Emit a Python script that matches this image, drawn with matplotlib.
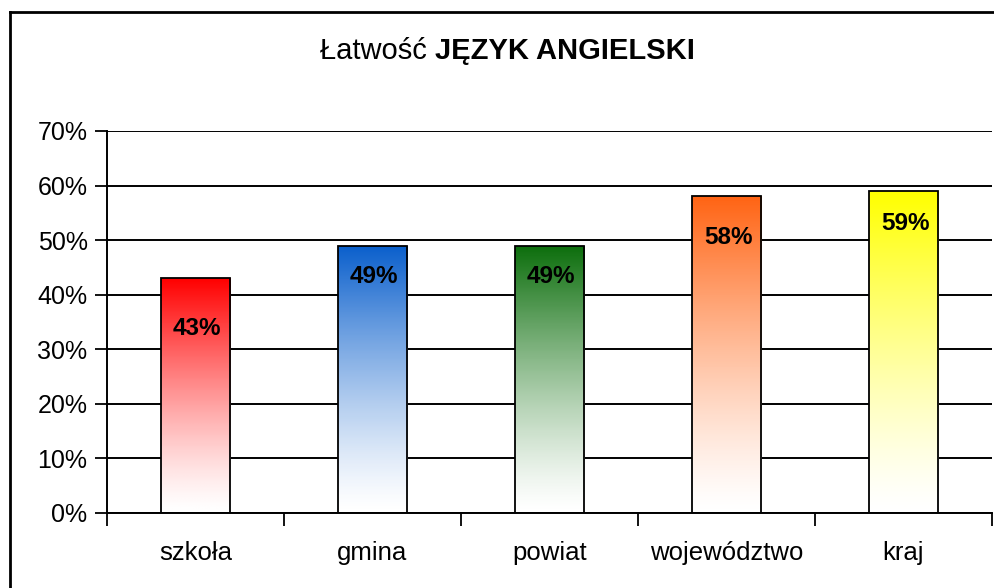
import numpy as np
import matplotlib.pyplot as plt
from matplotlib.colors import LinearSegmentedColormap
from matplotlib.lines import Line2D

plt.rcParams['font.family'] = ['Liberation Sans', 'DejaVu Sans']

# Data
categories = ["szkoła", "gmina", "powiat", "województwo", "kraj"]
values = [43, 49, 49, 58, 59]
bar_colors = ["#ff0000", "#0a5fcc", "#0c6e0c", "#ff6414", "#ffff00"]
label_offsets = [9.2, 5.7, 5.7, 7.5, 5.9]  # label distance below bar top, in %
yticks = [0, 10, 20, 30, 40, 50, 60, 70]

fig = plt.figure(figsize=(9.95, 5.88), dpi=100)
ax = fig.add_axes([107 / 995, 1 - 513 / 588, (992 - 107) / 995, (513 - 131) / 588])

x = np.arange(len(categories))
width = 0.395

# Gradient filled bars (colour at top fading to white at bottom)
grad = np.linspace(0, 1, 256).reshape(-1, 1)
for xi, v, c, off in zip(x, values, bar_colors, label_offsets):
    cmap = LinearSegmentedColormap.from_list("g", ["#ffffff", c])
    im = ax.imshow(grad ** 1.3, cmap=cmap, origin="lower", aspect="auto",
                   extent=(xi - width / 2, xi + width / 2, 0, v), zorder=2)
    rect = ax.bar(xi, v, width, facecolor="none", edgecolor="black",
                  linewidth=1.3, zorder=3)[0]
    im.set_clip_path(rect)
    ax.text(xi + 0.01, v - off, "{}%".format(v), ha="center", va="center",
            fontsize=17.5, fontweight="bold", zorder=4)

ax.set_xlim(-0.5, len(categories) - 0.5)
ax.set_ylim(0, 70)
ax.set_yticks(yticks)
ax.set_yticklabels(["{}%".format(t) for t in yticks], fontsize=18)
ax.yaxis.grid(True, color="black", linewidth=1.4)
ax.set_axisbelow(True)

# category ticks between bars, labels centred under bars
ax.set_xticks(np.arange(len(categories) + 1) - 0.5)
ax.set_xticklabels([])
ax.set_xticks(x, minor=True)
ax.set_xticklabels(categories, minor=True, fontsize=18.5)
ax.tick_params(axis="x", which="minor", length=0, pad=20)
ax.tick_params(axis="x", which="major", direction="out", length=9, width=1.3)
ax.tick_params(axis="y", direction="out", length=9, width=1.3, pad=5)

for s in ["top", "right"]:
    ax.spines[s].set_visible(False)
for s in ["left", "bottom"]:
    ax.spines[s].set_linewidth(1.4)

# Title with bold part
fig.text(0.437, 1 - 51 / 588, "Łatwość ", ha="right", va="center", fontsize=21)
fig.text(0.437, 1 - 51 / 588, "JĘZYK ANGIELSKI", ha="left", va="center",
         fontsize=21, fontweight="bold")

# outer chart border (cropped on right and bottom)
fig.add_artist(Line2D([10 / 995, 10 / 995], [0, 1 - 12 / 588], color="black", linewidth=2))
fig.add_artist(Line2D([10 / 995, 1], [1 - 12 / 588, 1 - 12 / 588], color="black", linewidth=2))

fig.savefig("out.png", dpi=100)
